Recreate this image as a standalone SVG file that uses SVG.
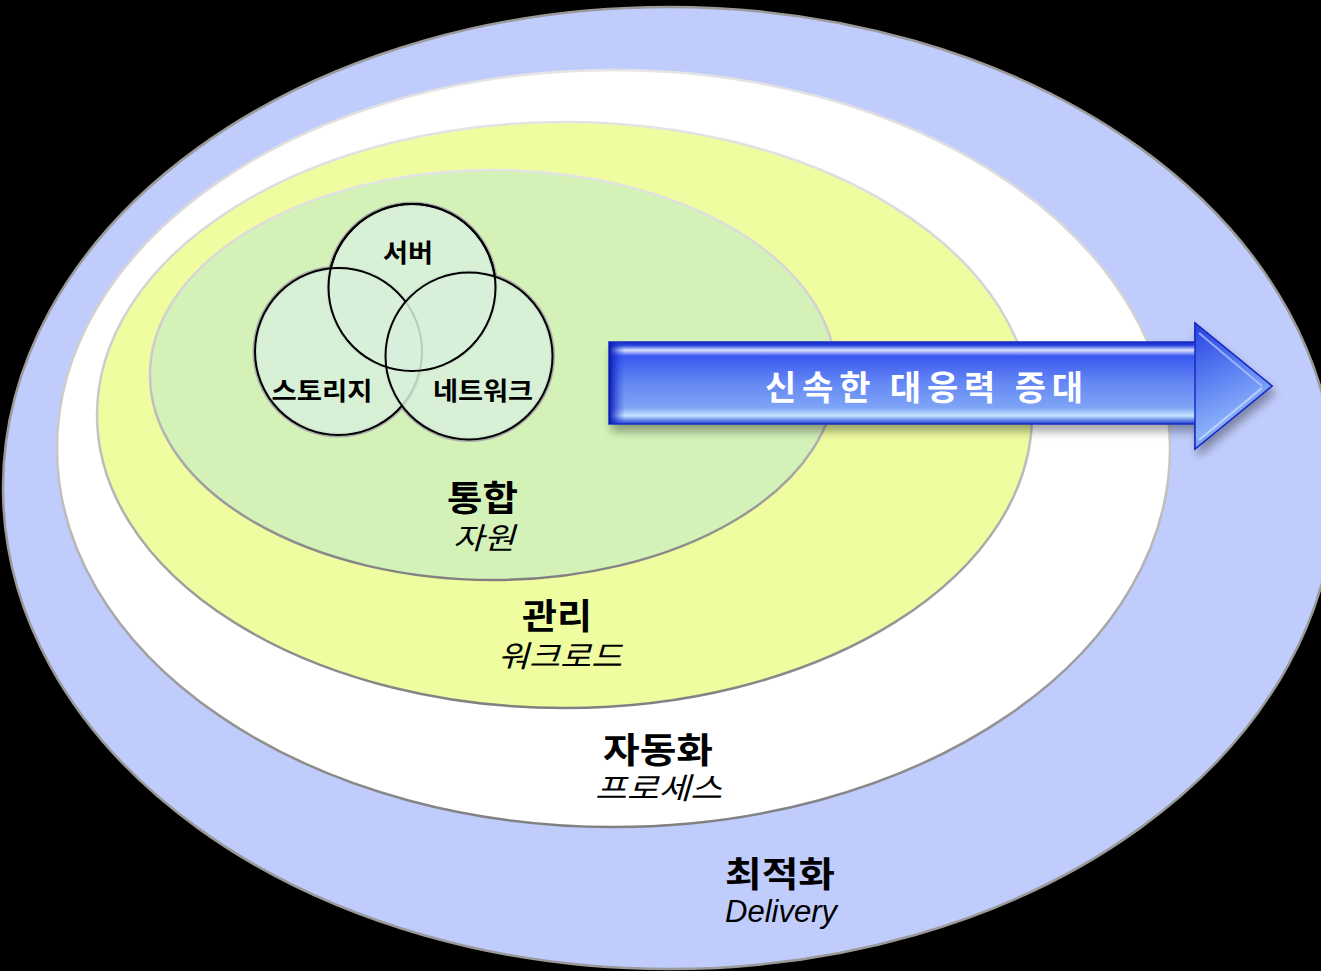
<svg xmlns="http://www.w3.org/2000/svg" width="1321" height="971" viewBox="0 0 1321 971">
<defs>
<style>
.lbl{font-family:"Noto Sans CJK KR","Liberation Sans",sans-serif;font-weight:bold;fill:#000;text-anchor:middle}
.sub{font-family:"Noto Sans CJK KR","Liberation Sans",sans-serif;font-style:italic;fill:#000;text-anchor:middle}
.venn{fill:#d8f0da;fill-opacity:0.85;stroke:#000;stroke-width:2}
.halo{fill:none;stroke:#a8a8a8;stroke-width:5}
.ring{stroke:url(#rimG);stroke-width:2.5}
</style>
<linearGradient id="rimG" x1="0" y1="0" x2="0" y2="1">
<stop offset="0" stop-color="#e4e4e4"/>
<stop offset="0.5" stop-color="#c8c8c8"/>
<stop offset="1" stop-color="#808080"/>
</linearGradient>
<linearGradient id="bodyG" x1="0" y1="342" x2="0" y2="424" gradientUnits="userSpaceOnUse">
<stop offset="0" stop-color="#1028c8"/>
<stop offset="0.04" stop-color="#2a44e0"/>
<stop offset="0.1" stop-color="#d8e4ff"/>
<stop offset="0.17" stop-color="#3a58f0"/>
<stop offset="0.5" stop-color="#6488f4"/>
<stop offset="0.8" stop-color="#7ea4f6"/>
<stop offset="0.9" stop-color="#c4e4ff"/>
<stop offset="0.96" stop-color="#5a7ae8"/>
<stop offset="1" stop-color="#2a40c8"/>
</linearGradient>
<linearGradient id="headG" x1="1195" y1="323" x2="1250" y2="440" gradientUnits="userSpaceOnUse">
<stop offset="0" stop-color="#2440e0"/>
<stop offset="0.45" stop-color="#5c80f2"/>
<stop offset="0.8" stop-color="#8ab0fa"/>
<stop offset="1" stop-color="#5a7ae6"/>
</linearGradient>
<linearGradient id="leftG" x1="609" y1="0" x2="625" y2="0" gradientUnits="userSpaceOnUse">
<stop offset="0" stop-color="#0818b0" stop-opacity="1"/>
<stop offset="1" stop-color="#3050e8" stop-opacity="0"/>
</linearGradient>
<filter id="sh" x="-10%" y="-30%" width="120%" height="160%">
<feGaussianBlur in="SourceAlpha" stdDeviation="5"/>
<feOffset dx="3" dy="7" result="b"/>
<feComponentTransfer><feFuncA type="linear" slope="0.35"/></feComponentTransfer>
<feMerge><feMergeNode/><feMergeNode in="SourceGraphic"/></feMerge>
</filter>
</defs>
<rect x="0" y="0" width="1321" height="971" fill="#000"/>
<g id="optimize">
<ellipse cx="669" cy="488" rx="666" ry="481" fill="#c0ccfc" stroke="#9a9a9a" stroke-width="2.5"/>
</g>
<g id="automation">
<ellipse cx="613.5" cy="448.5" rx="556.5" ry="378.5" fill="#ffffff" class="ring"/>
</g>
<g id="manage">
<ellipse cx="564.5" cy="415" rx="467.5" ry="293" fill="#f0fca0" class="ring"/>
</g>
<g id="integrate">
<ellipse cx="493" cy="375" rx="343" ry="205" fill="#d4f2b8" class="ring"/>
</g>
<g id="venn">
<circle cx="412" cy="287.5" r="83.5" class="halo"/>
<circle cx="338.5" cy="351.5" r="83.5" class="halo"/>
<circle cx="469" cy="356" r="83.5" class="halo"/>
<circle cx="412" cy="287.5" r="83.5" class="venn"/>
<circle cx="338.5" cy="351.5" r="83.5" class="venn"/>
<circle cx="469" cy="356" r="83.5" class="venn"/>
<circle cx="412" cy="287.5" r="83.5" fill="none" stroke="#000" stroke-width="2"/>
<text class="lbl" x="408" y="262" font-size="25" textLength="50" lengthAdjust="spacingAndGlyphs">서버</text>
<text class="lbl" x="322" y="400" font-size="25" textLength="101" lengthAdjust="spacingAndGlyphs">스토리지</text>
<text class="lbl" x="483" y="400" font-size="25" textLength="100" lengthAdjust="spacingAndGlyphs">네트워크</text>
</g>
<g id="labels">
<text class="lbl" x="482.5" y="511" font-size="35" textLength="71" lengthAdjust="spacingAndGlyphs">통합</text>
<text class="sub" x="484" y="549" font-size="30" textLength="62" lengthAdjust="spacingAndGlyphs">자원</text>
<text class="lbl" x="557" y="629" font-size="35" textLength="70" lengthAdjust="spacingAndGlyphs">관리</text>
<text class="sub" x="560" y="667" font-size="30" textLength="124" lengthAdjust="spacingAndGlyphs">워크로드</text>
<text class="lbl" x="658" y="763" font-size="35" textLength="110" lengthAdjust="spacingAndGlyphs">자동화</text>
<text class="sub" x="658.5" y="799" font-size="30" textLength="127" lengthAdjust="spacingAndGlyphs">프로세스</text>
<text class="lbl" x="780" y="887" font-size="35" textLength="110" lengthAdjust="spacingAndGlyphs">최적화</text>
<text class="sub" x="781" y="922" font-size="31" style="font-family:'Liberation Sans',sans-serif">Delivery</text>
</g>
<g id="arrow">
<g filter="url(#sh)">
<path d="M609,342 H1195 V323 L1272,386 L1195,449 V424 H609 Z" fill="url(#bodyG)" stroke="#1a2cc0" stroke-width="1.5"/>
</g>
<path d="M1195,342 V323 L1272,386 L1195,449 V424 Z" fill="url(#headG)" stroke="#1a2cc0" stroke-width="1.5"/>
<path d="M1199,333 L1262,386" stroke="#b8ccff" stroke-width="2" fill="none" opacity="0.7"/>
<path d="M1199,440 L1262,388" stroke="#c8dcff" stroke-width="2" fill="none" opacity="0.8"/>
<rect x="609" y="342" width="16" height="82" fill="url(#leftG)"/>
<text x="924" y="400" font-size="34" textLength="318" lengthAdjust="spacing" style="font-family:'Noto Sans CJK KR','Liberation Sans',sans-serif;font-weight:bold;fill:#fff;text-anchor:middle">신속한 대응력 증대</text>
</g>
</svg>
